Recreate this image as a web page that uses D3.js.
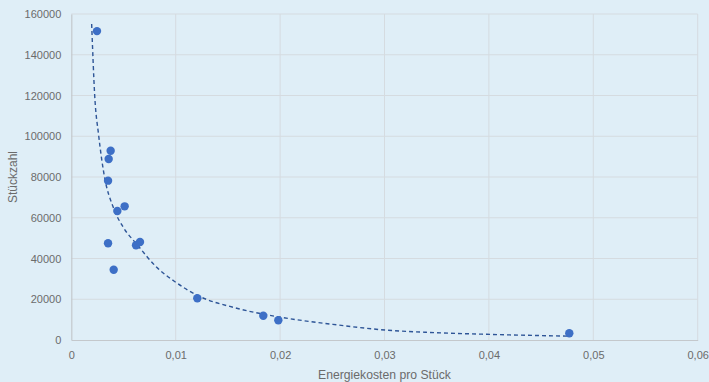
<!DOCTYPE html>
<html><head><meta charset="utf-8">
<script src="https://cdn.jsdelivr.net/npm/d3@7"></script>
<style>
html,body{margin:0;padding:0;background:#dfeef7;}
svg{display:block;}
text{font-family:"Liberation Sans",Arial,sans-serif;fill:#6b6b6b;}
</style></head>
<body><svg id="c" width="709" height="382"></svg>
<script>
// Data
const energyCost = [0.00246,0.00377,0.00358,0.00352,0.00441,0.00511,0.00352,0.00406,0.0062,0.00658,0.01207,0.01839,0.01983,0.0477];
const units      = [151600,92900,88800,78200,63300,65600,47500,34500,46500,48100,20500,11900,9700,3300];
// dashed trendline as drawn in the reference
const trendX = [0.00195,0.00224,0.00262,0.00313,0.00402,0.00498,0.00626,0.00818,0.00993,0.0120,0.01584,0.01967,0.02478,0.03005,0.0340,0.0398,0.0475];
const trendY = [155100,120100,100500,81500,65100,55300,47100,35700,28600,22100,15600,11500,7850,4900,3780,2800,1900];
const xTicks = [0,0.01,0.02,0.03,0.04,0.05,0.06];
const yTicks = [0,20000,40000,60000,80000,100000,120000,140000,160000];
const xTitle = "Energiekosten pro Stück";
const yTitle = "Stückzahl";

const svg = d3.select("#c");
const x = d3.scaleLinear().domain([0,0.06]).range([71.3,697.7]);
const y = d3.scaleLinear().domain([0,160000]).range([340,14]);
const de = d3.formatLocale({decimal:",",thousands:".",grouping:[3],currency:["","€"]});
const fx = d => d===0 ? "0" : de.format(".2f")(d);

// gridlines
svg.append("g").selectAll("line").data(yTicks.filter(d=>d>0)).join("line")
  .attr("x1",x(0)).attr("x2",x(0.06)).attr("y1",d=>y(d)).attr("y2",d=>y(d))
  .attr("stroke","#d5dbe0").attr("stroke-width",1);
svg.append("g").selectAll("line").data(xTicks.filter(d=>d>0)).join("line")
  .attr("x1",d=>x(d)).attr("x2",d=>x(d)).attr("y1",y(0)).attr("y2",y(160000))
  .attr("stroke","#d5dbe0").attr("stroke-width",1);

// axes
const xa = svg.append("g").attr("transform",`translate(0,${y(0)})`)
  .call(d3.axisBottom(x).tickValues(xTicks).tickFormat(fx).tickSize(0).tickPadding(11));
const ya = svg.append("g").attr("transform",`translate(${x(0)},0)`)
  .call(d3.axisLeft(y).tickValues(yTicks).tickFormat(d3.format("d")).tickSize(0).tickPadding(10));
[xa,ya].forEach(a=>{
  a.select(".domain").attr("stroke","#c4c8cc").attr("stroke-width",1.2);
  a.selectAll("text").attr("font-size","11px").attr("fill","#717171")
   .style("font-family","'Liberation Sans',Arial,sans-serif");
});

// trendline
const pts = trendX.map((d,i)=>[d,trendY[i]]);
svg.append("path").datum(pts)
  .attr("d",d3.line().x(d=>x(d[0])).y(d=>y(d[1])).curve(d3.curveMonotoneX))
  .attr("fill","none").attr("stroke","#2e5597").attr("stroke-width",1.4)
  .attr("stroke-dasharray","4,3");

// points
svg.append("g").selectAll("circle").data(energyCost.map((d,i)=>[d,units[i]])).join("circle")
  .attr("cx",d=>x(d[0])).attr("cy",d=>y(d[1])).attr("r",4.2).attr("fill","#3d6fc6");

// titles
svg.append("text").attr("x",(x(0)+x(0.06))/2).attr("y",378.5).attr("text-anchor","middle")
  .attr("font-size","12.2px").attr("fill","#6b6b6b").text(xTitle);
svg.append("text").attr("transform",`translate(17,${(y(0)+y(160000))/2}) rotate(-90)`)
  .attr("text-anchor","middle").attr("font-size","12px").attr("fill","#6b6b6b").text(yTitle);
</script></body></html>
